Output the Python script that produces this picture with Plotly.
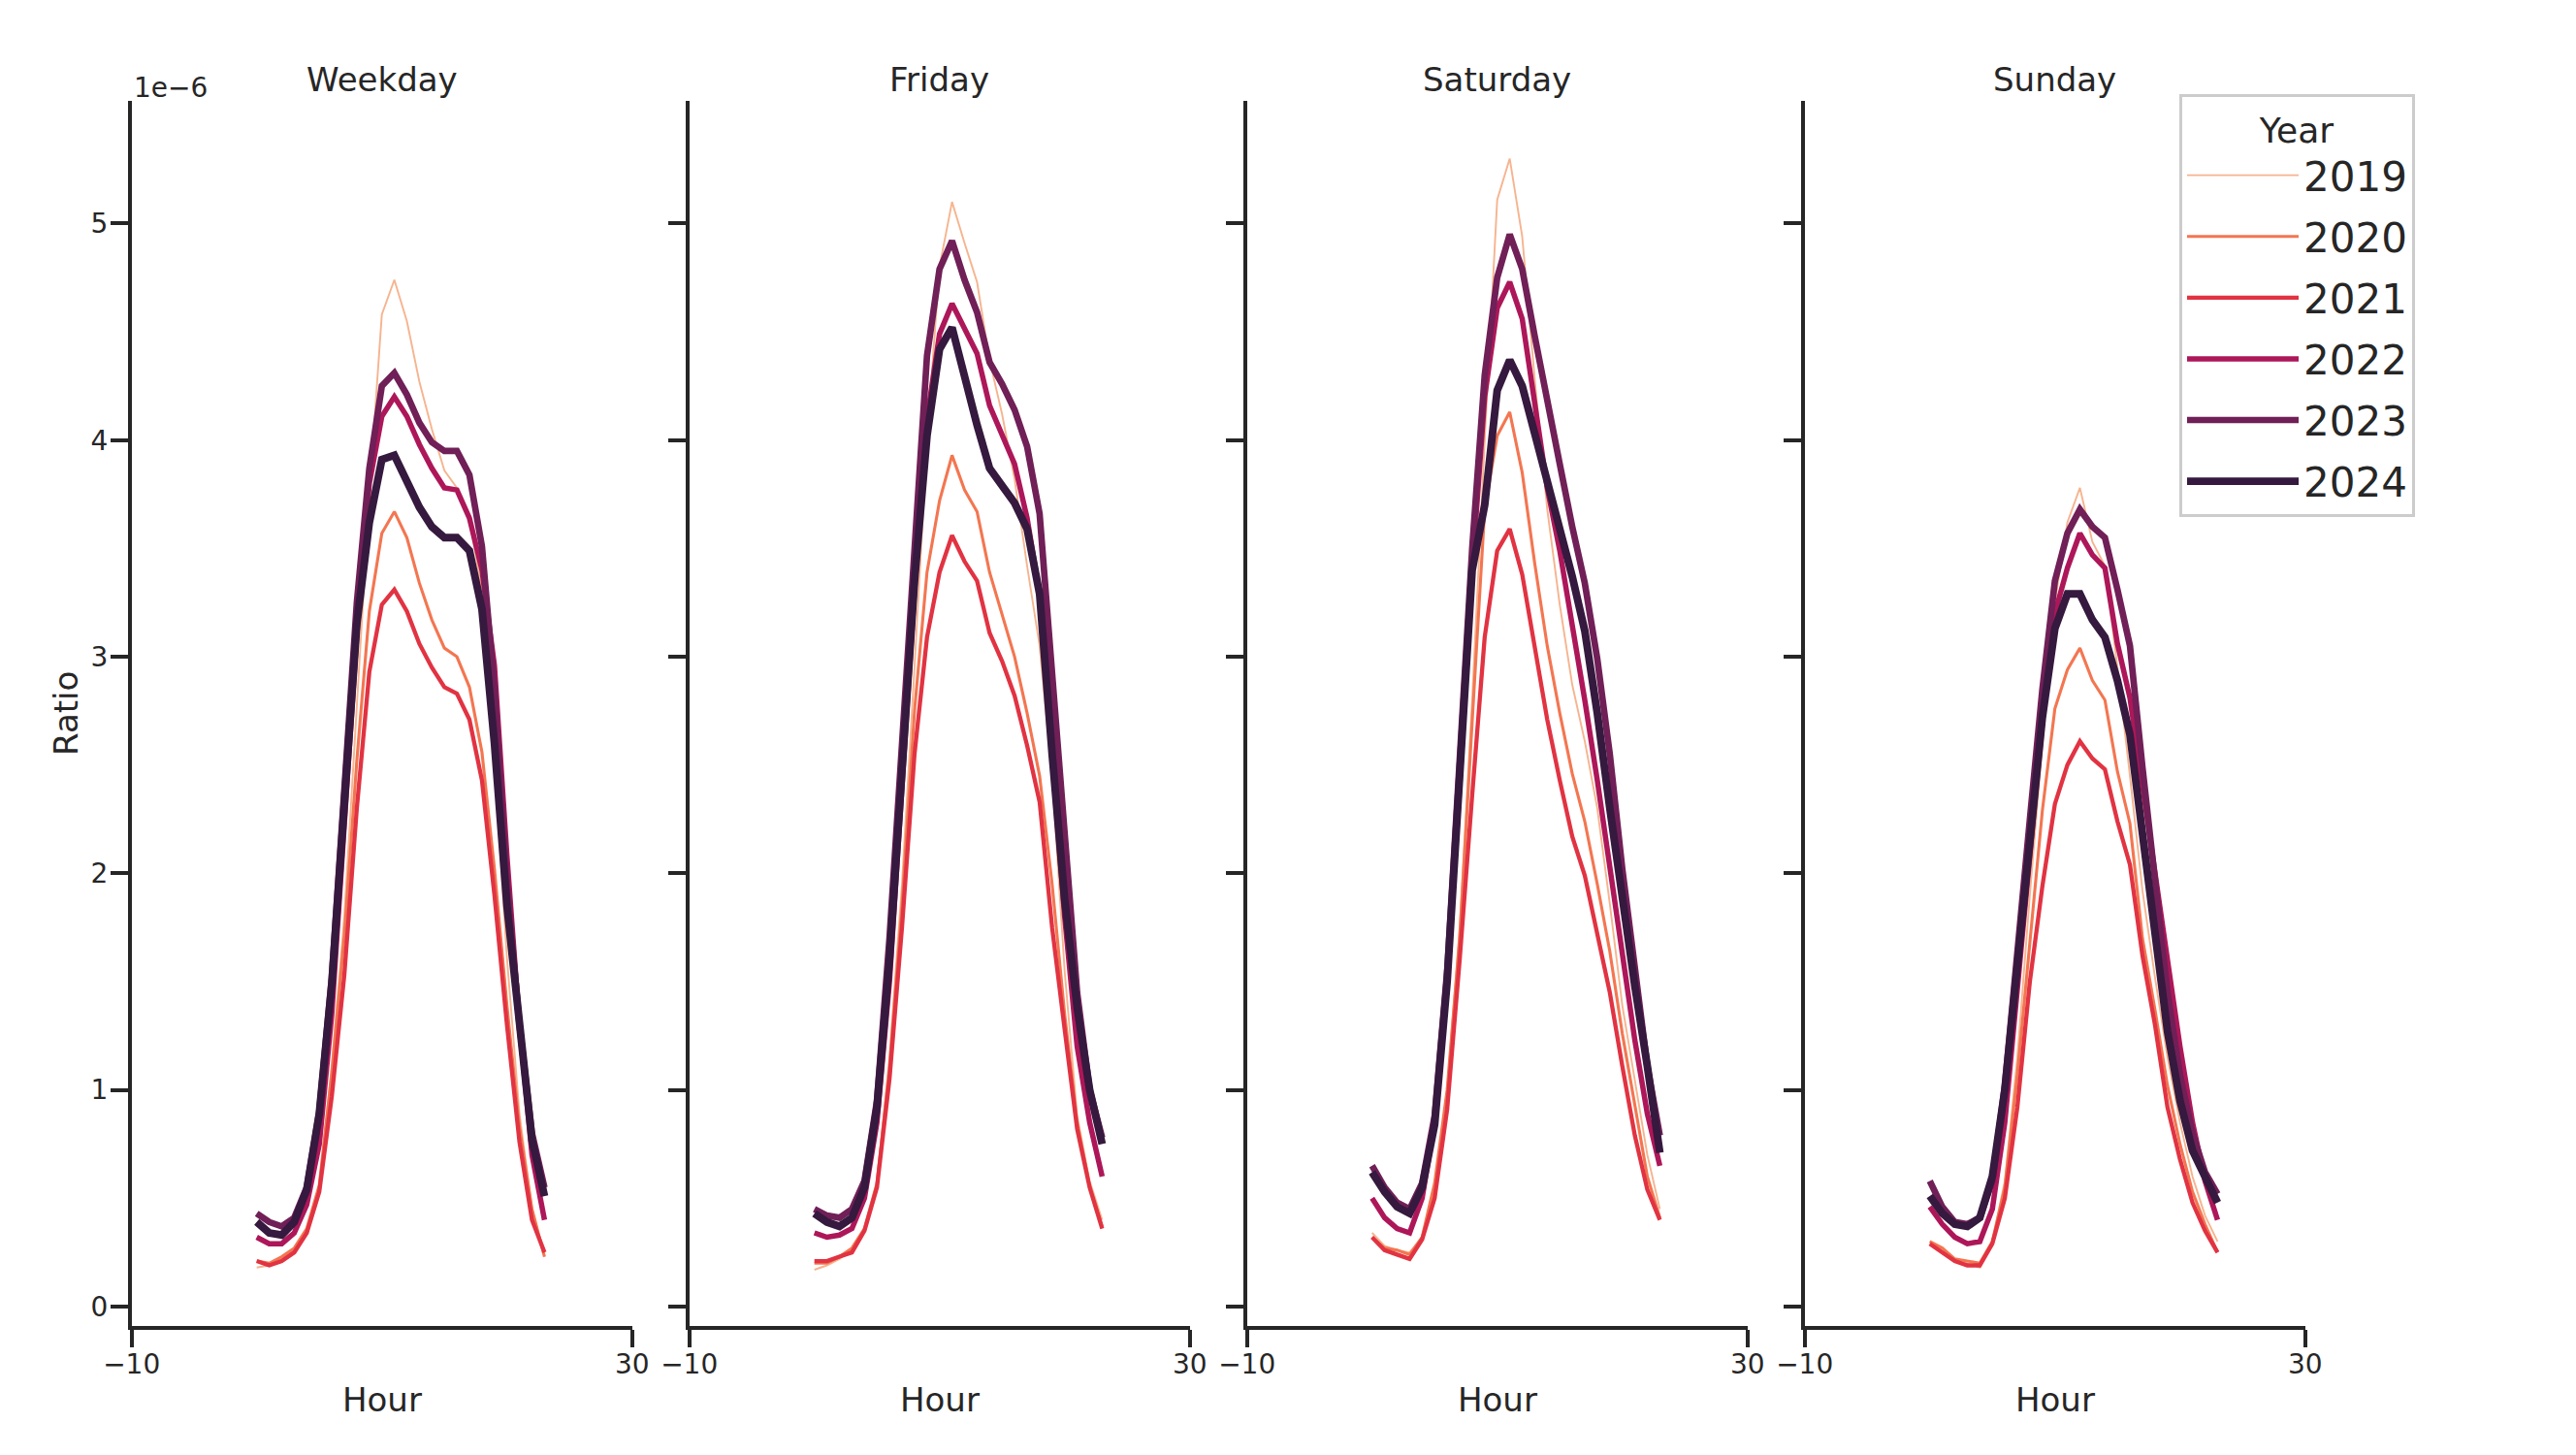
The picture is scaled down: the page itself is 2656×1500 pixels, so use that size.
import plotly.graph_objects as go

# ---------------- data (ratio in units of 1e-6) ----------------
hours = list(range(24))
days = ["Weekday", "Friday", "Saturday", "Sunday"]
years = [2019, 2020, 2021, 2022, 2023, 2024]
x_tick_vals = [-10, 30]
x_tick_text = ["\u221210", "30"]
y_tick_vals = [0, 1, 2, 3, 4, 5]
y_tick_text = ["0", "1", "2", "3", "4", "5"]
scale = 1e-6

weekday_2019 = [0.18, 0.19, 0.22, 0.26, 0.35, 0.56, 1.11, 1.80, 2.77, 3.75, 4.58, 4.74, 4.55, 4.27, 4.05, 3.86, 3.78, 3.64, 3.30, 2.52, 1.61, 0.89, 0.45, 0.23]
weekday_2020 = [0.21, 0.20, 0.23, 0.27, 0.36, 0.56, 1.08, 1.71, 2.52, 3.21, 3.57, 3.67, 3.55, 3.34, 3.17, 3.04, 3.00, 2.86, 2.56, 2.02, 1.39, 0.83, 0.45, 0.23]
weekday_2021 = [0.21, 0.19, 0.21, 0.25, 0.34, 0.53, 0.97, 1.53, 2.30, 2.93, 3.24, 3.31, 3.21, 3.06, 2.95, 2.86, 2.83, 2.71, 2.43, 1.90, 1.30, 0.76, 0.40, 0.25]
weekday_2022 = [0.32, 0.29, 0.29, 0.34, 0.47, 0.75, 1.35, 2.20, 3.10, 3.80, 4.11, 4.20, 4.11, 3.98, 3.87, 3.78, 3.77, 3.64, 3.40, 2.96, 2.08, 1.30, 0.70, 0.40]
weekday_2023 = [0.43, 0.39, 0.37, 0.41, 0.55, 0.90, 1.52, 2.35, 3.25, 3.87, 4.25, 4.31, 4.21, 4.08, 3.99, 3.95, 3.95, 3.84, 3.51, 2.85, 1.95, 1.30, 0.80, 0.55]
weekday_2024 = [0.39, 0.34, 0.33, 0.39, 0.54, 0.89, 1.49, 2.30, 3.15, 3.62, 3.91, 3.93, 3.81, 3.69, 3.60, 3.55, 3.55, 3.49, 3.22, 2.60, 1.85, 1.27, 0.77, 0.51]

friday_2019 = [0.17, 0.19, 0.22, 0.26, 0.35, 0.57, 1.15, 1.95, 2.95, 4.00, 4.80, 5.10, 4.91, 4.73, 4.37, 4.12, 3.82, 3.42, 3.05, 2.45, 1.55, 0.88, 0.58, 0.40]
friday_2020 = [0.20, 0.20, 0.23, 0.27, 0.36, 0.57, 1.10, 1.85, 2.75, 3.39, 3.72, 3.93, 3.77, 3.67, 3.39, 3.19, 3.00, 2.74, 2.45, 1.95, 1.35, 0.85, 0.55, 0.37]
friday_2021 = [0.21, 0.21, 0.23, 0.25, 0.35, 0.55, 1.05, 1.75, 2.55, 3.09, 3.39, 3.56, 3.44, 3.35, 3.11, 2.98, 2.82, 2.59, 2.33, 1.75, 1.28, 0.82, 0.55, 0.36]
friday_2022 = [0.34, 0.32, 0.33, 0.36, 0.50, 0.85, 1.50, 2.40, 3.30, 4.10, 4.49, 4.63, 4.51, 4.40, 4.16, 4.03, 3.89, 3.64, 3.29, 2.55, 1.80, 1.20, 0.85, 0.60]
friday_2023 = [0.45, 0.42, 0.41, 0.45, 0.58, 0.95, 1.70, 2.60, 3.50, 4.39, 4.79, 4.92, 4.74, 4.59, 4.36, 4.26, 4.14, 3.97, 3.66, 2.95, 2.15, 1.45, 1.00, 0.78]
friday_2024 = [0.43, 0.39, 0.37, 0.41, 0.55, 0.92, 1.60, 2.50, 3.35, 4.02, 4.42, 4.52, 4.29, 4.07, 3.87, 3.79, 3.71, 3.59, 3.29, 2.55, 1.88, 1.38, 1.00, 0.75]

saturday_2019 = [0.34, 0.28, 0.26, 0.25, 0.32, 0.55, 1.00, 1.75, 2.80, 4.00, 5.11, 5.30, 4.94, 4.28, 3.68, 3.24, 2.87, 2.61, 2.30, 1.86, 1.39, 1.04, 0.70, 0.45]
saturday_2020 = [0.32, 0.27, 0.26, 0.24, 0.32, 0.57, 1.00, 1.70, 2.70, 3.68, 4.02, 4.13, 3.85, 3.43, 3.05, 2.74, 2.46, 2.24, 1.95, 1.64, 1.26, 0.92, 0.60, 0.41]
saturday_2021 = [0.32, 0.26, 0.24, 0.22, 0.31, 0.50, 0.91, 1.60, 2.36, 3.09, 3.49, 3.59, 3.38, 3.05, 2.71, 2.43, 2.17, 1.99, 1.73, 1.45, 1.11, 0.79, 0.54, 0.40]
saturday_2022 = [0.50, 0.41, 0.36, 0.34, 0.50, 0.85, 1.50, 2.40, 3.40, 4.20, 4.61, 4.73, 4.56, 4.18, 3.78, 3.49, 3.15, 2.80, 2.43, 2.02, 1.61, 1.23, 0.89, 0.65]
saturday_2023 = [0.65, 0.55, 0.48, 0.45, 0.57, 0.88, 1.55, 2.50, 3.50, 4.30, 4.75, 4.95, 4.79, 4.48, 4.17, 3.89, 3.60, 3.34, 2.99, 2.55, 2.02, 1.55, 1.11, 0.79]
saturday_2024 = [0.62, 0.53, 0.46, 0.43, 0.55, 0.84, 1.50, 2.40, 3.40, 3.70, 4.23, 4.37, 4.25, 4.03, 3.81, 3.62, 3.37, 3.12, 2.74, 2.30, 1.86, 1.48, 1.11, 0.71]

sunday_2019 = [0.30, 0.27, 0.21, 0.20, 0.18, 0.30, 0.58, 1.15, 1.90, 2.60, 3.25, 3.62, 3.78, 3.53, 3.42, 2.95, 2.45, 1.92, 1.52, 1.15, 0.85, 0.60, 0.42, 0.30]
sunday_2020 = [0.30, 0.27, 0.22, 0.21, 0.20, 0.30, 0.55, 1.07, 1.69, 2.29, 2.76, 2.94, 3.04, 2.89, 2.80, 2.47, 2.23, 1.70, 1.37, 1.02, 0.75, 0.53, 0.38, 0.25]
sunday_2021 = [0.29, 0.25, 0.21, 0.19, 0.19, 0.29, 0.50, 0.92, 1.50, 1.94, 2.32, 2.50, 2.61, 2.53, 2.48, 2.24, 2.04, 1.62, 1.30, 0.92, 0.68, 0.48, 0.35, 0.25]
sunday_2022 = [0.46, 0.38, 0.32, 0.29, 0.30, 0.45, 0.85, 1.45, 2.10, 2.70, 3.20, 3.41, 3.57, 3.47, 3.41, 3.06, 2.81, 2.42, 1.99, 1.60, 1.20, 0.85, 0.58, 0.40]
sunday_2023 = [0.58, 0.46, 0.39, 0.38, 0.41, 0.58, 1.02, 1.60, 2.25, 2.85, 3.35, 3.57, 3.68, 3.60, 3.55, 3.31, 3.05, 2.49, 1.94, 1.45, 1.07, 0.80, 0.62, 0.52]
sunday_2024 = [0.51, 0.43, 0.38, 0.37, 0.41, 0.60, 1.00, 1.55, 2.15, 2.72, 3.13, 3.29, 3.29, 3.17, 3.09, 2.89, 2.64, 2.19, 1.72, 1.27, 0.95, 0.72, 0.60, 0.48]

series_by_day = {
    "Weekday": [weekday_2019, weekday_2020, weekday_2021, weekday_2022, weekday_2023, weekday_2024],
    "Friday": [friday_2019, friday_2020, friday_2021, friday_2022, friday_2023, friday_2024],
    "Saturday": [saturday_2019, saturday_2020, saturday_2021, saturday_2022, saturday_2023, saturday_2024],
    "Sunday": [sunday_2019, sunday_2020, sunday_2021, sunday_2022, sunday_2023, sunday_2024],
}

# ---------------- style / layout ----------------
colors = ["#f6b48f", "#f37651", "#e13342", "#ad1759", "#701f57", "#35193e"]
widths = [1.9, 3.1, 4.3, 5.5, 6.7, 7.9]
ink = "#262626"

# page has an 8px body margin: size the figure to fit inside the 2656x1500 window
OFF = 8
W, H = 2656 - 2 * OFF, 1500 - 2 * OFF


def px(sx):  # screen x -> paper fraction
    return (sx - OFF) / W


def py(sy):  # screen y (from top) -> paper fraction
    return 1 - (sy - OFF) / H


panel_left = [135.7, 710.7, 1285.7, 1860.7]
panel_w = 516.0
plot_top, plot_bottom = 104.3, 1366.7
y_dom = [py(plot_bottom), py(plot_top)]

fig = go.Figure()

for i, day in enumerate(days):
    sfx = "" if i == 0 else str(i + 1)
    for j, yr in enumerate(years):
        vals = [v * scale for v in series_by_day[day][j]]
        fig.add_trace(go.Scatter(
            x=hours, y=vals, mode="lines",
            line=dict(color=colors[j], width=widths[j]),
            name=str(yr), legendgroup=str(yr), showlegend=(i == 0),
            xaxis="x" + sfx, yaxis="y" + sfx,
        ))
    dom = [px(panel_left[i]), px(panel_left[i] + panel_w)]
    fig.layout["xaxis" + sfx] = dict(
        domain=dom, anchor="y" + sfx, range=[-10, 30], automargin=False,
        tickmode="array", tickvals=x_tick_vals, ticktext=x_tick_text,
        ticks="outside", ticklen=18, tickwidth=3.7, tickcolor=ink,
        ticklabelstandoff=-6,
        showline=True, linewidth=3.7, linecolor=ink,
        showgrid=False, zeroline=False,
        tickfont=dict(size=28, color=ink),
    )
    fig.layout["yaxis" + sfx] = dict(
        domain=y_dom, anchor="x" + sfx, range=[-0.0885 * scale, 5.565 * scale],
        automargin=False,
        tickmode="array", tickvals=[v * scale for v in y_tick_vals], ticktext=y_tick_text,
        ticks="outside", ticklen=18, tickwidth=3.7, tickcolor=ink,
        ticklabelstandoff=-3,
        showticklabels=(i == 0),
        showline=True, linewidth=3.7, linecolor=ink,
        showgrid=False, zeroline=False,
        tickfont=dict(size=28, color=ink),
    )
    cx = px(panel_left[i] + panel_w / 2)
    fig.add_annotation(text=day, x=cx, y=py(82), xref="paper", yref="paper",
                       xanchor="center", yanchor="middle", showarrow=False,
                       font=dict(size=34, color=ink))
    fig.add_annotation(text="Hour", x=cx, y=py(1443), xref="paper", yref="paper",
                       xanchor="center", yanchor="middle", showarrow=False,
                       font=dict(size=34, color=ink))

fig.add_annotation(text="1e\u22126", x=px(136), y=py(90), xref="paper", yref="paper",
                   xanchor="left", yanchor="middle", showarrow=False,
                   font=dict(size=28, color=ink))
fig.add_annotation(text="Ratio", x=px(68), y=py(736), xref="paper", yref="paper",
                   xanchor="center", yanchor="middle", showarrow=False, textangle=-90,
                   font=dict(size=34, color=ink))

fig.update_layout(
    width=W, height=H, autosize=False,
    margin=dict(l=0, r=0, t=0, b=0, pad=0),
    paper_bgcolor="white", plot_bgcolor="white",
    font=dict(family="DejaVu Sans", color=ink),
    legend=dict(
        x=px(2247), y=py(97), xanchor="left", yanchor="top",
        bgcolor="rgba(255,255,255,0.8)", bordercolor="#cccccc", borderwidth=3,
        font=dict(size=42, color=ink),
        title=dict(text="Year", font=dict(size=36, color=ink), side="top center"),
        itemwidth=115, traceorder="grouped", tracegroupgap=5.5,
    ),
    showlegend=True,
)

fig.write_html("out.html")
